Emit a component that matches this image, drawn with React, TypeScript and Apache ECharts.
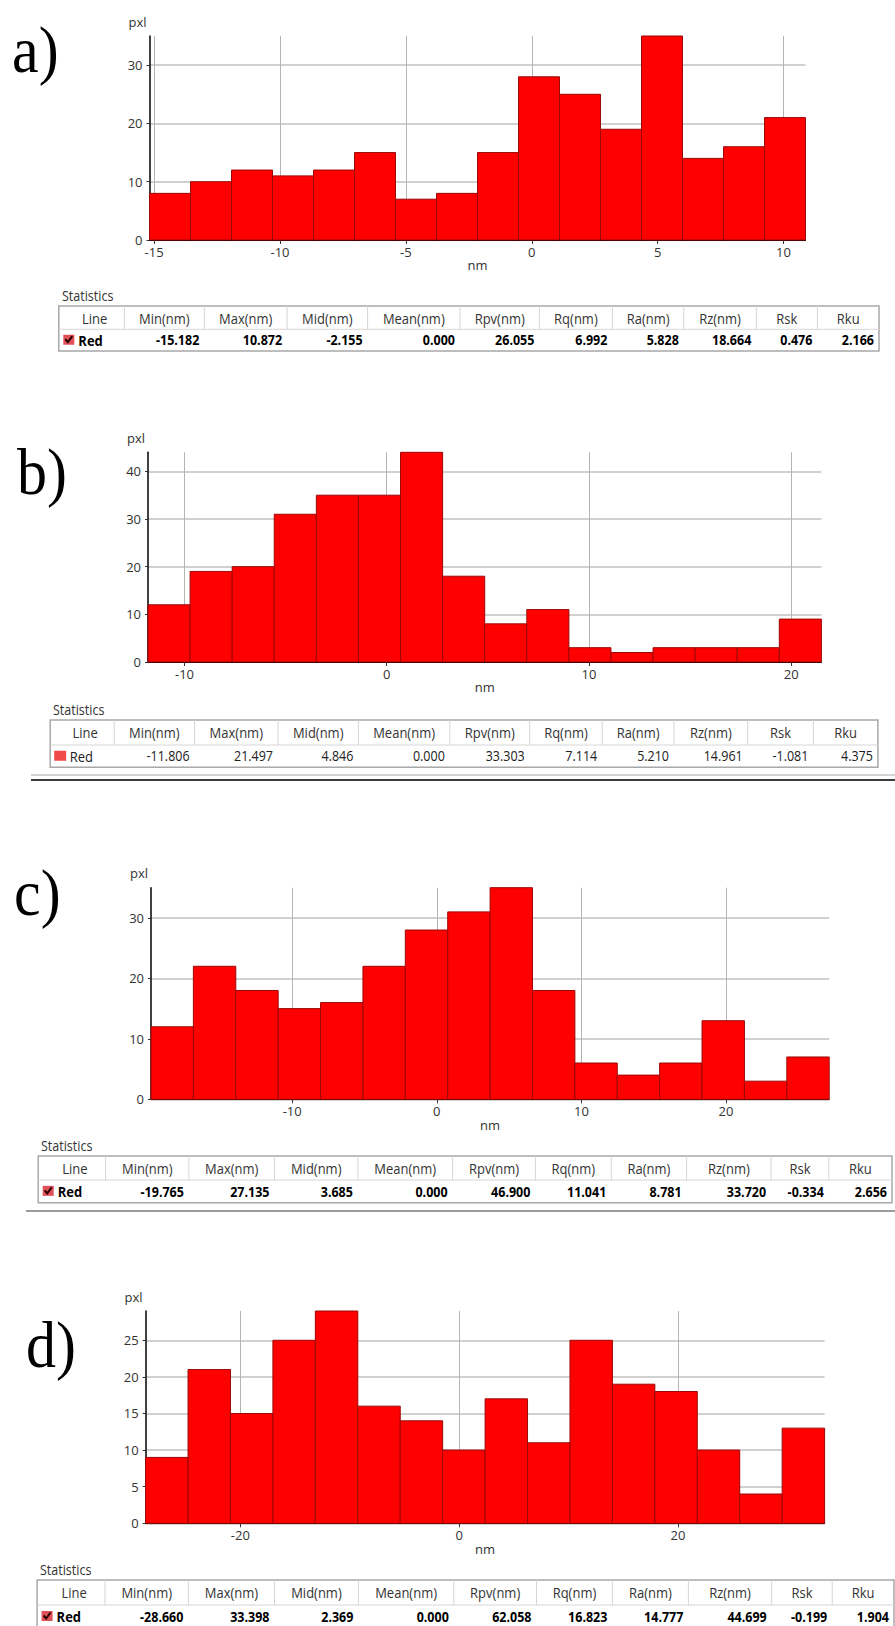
import React, { useEffect, useRef } from 'react';
import * as echarts from 'echarts';

// ---------- data ----------
const PANEL_LABELS = ['a)', 'b)', 'c)', 'd)'];
const SERIES_NAME = 'Red';
const X_NAME = 'nm';
const Y_NAME = 'pxl';
const STATS_TITLE = 'Statistics';

const X_MIN = [-15.182, -11.806, -19.765, -28.66];
const X_MAX = [10.872, 21.497, 27.135, 33.398];
const Y_MAX = [35, 44, 35, 29];

const COUNTS_A = [8, 10, 12, 11, 12, 15, 7, 8, 15, 28, 25, 19, 35, 14, 16, 21];
const COUNTS_B = [12, 19, 20, 31, 35, 35, 44, 18, 8, 11, 3, 2, 3, 3, 3, 9];
const COUNTS_C = [12, 22, 18, 15, 16, 22, 28, 31, 35, 18, 6, 4, 6, 13, 3, 7];
const COUNTS_D = [9, 21, 15, 25, 29, 16, 14, 10, 17, 11, 25, 19, 18, 10, 4, 13];

const X_TICKS_A = [-15, -10, -5, 0, 5, 10];
const X_TICKS_B = [-10, 0, 10, 20];
const X_TICKS_C = [-10, 0, 10, 20];
const X_TICKS_D = [-20, 0, 20];

const Y_TICKS_A = [0, 10, 20, 30];
const Y_TICKS_B = [0, 10, 20, 30, 40];
const Y_TICKS_C = [0, 10, 20, 30];
const Y_TICKS_D = [0, 5, 10, 15, 20, 25];

const STAT_HEADERS = ['Line', 'Min(nm)', 'Max(nm)', 'Mid(nm)', 'Mean(nm)', 'Rpv(nm)', 'Rq(nm)', 'Ra(nm)', 'Rz(nm)', 'Rsk', 'Rku'];
const STATS_A = ['-15.182', '10.872', '-2.155', '0.000', '26.055', '6.992', '5.828', '18.664', '0.476', '2.166'];
const STATS_B = ['-11.806', '21.497', '4.846', '0.000', '33.303', '7.114', '5.210', '14.961', '-1.081', '4.375'];
const STATS_C = ['-19.765', '27.135', '3.685', '0.000', '46.900', '11.041', '8.781', '33.720', '-0.334', '2.656'];
const STATS_D = ['-28.660', '33.398', '2.369', '0.000', '62.058', '16.823', '14.777', '44.699', '-0.199', '1.904'];

const COUNTS = [COUNTS_A, COUNTS_B, COUNTS_C, COUNTS_D];
const X_TICKS = [X_TICKS_A, X_TICKS_B, X_TICKS_C, X_TICKS_D];
const Y_TICKS = [Y_TICKS_A, Y_TICKS_B, Y_TICKS_C, Y_TICKS_D];
const STATS = [STATS_A, STATS_B, STATS_C, STATS_D];

// ---------- layout (pixels) ----------
const LAYOUT = [
  {
    grid: { left: 149.5, top: 36, width: 656, height: 204 },
    label: { x: 12, y: 50 },
    stat: { x: 62, y: 296 },
    table: { top: 306, hdr: 329.3, bottom: 351, cols: [58.8, 124.4, 204.3, 287.1, 367.6, 460, 539.4, 612.4, 683.8, 756.3, 817.4, 879] },
    bold: true, check: true,
  },
  {
    grid: { left: 148, top: 452.3, width: 673.4, height: 209.7 },
    label: { x: 17, y: 472 },
    stat: { x: 53, y: 710 },
    table: { top: 720, hdr: 745, bottom: 767.3, cols: [50.2, 114.2, 194.6, 278, 358.4, 449.8, 529.7, 602.2, 674, 747.7, 813.4, 877.9] },
    bold: false, check: false,
  },
  {
    grid: { left: 151, top: 887.7, width: 678.2, height: 211.6 },
    label: { x: 14, y: 893 },
    stat: { x: 41, y: 1146 },
    table: { top: 1156, hdr: 1180, bottom: 1202.7, cols: [38.2, 105.6, 188.9, 274.5, 357.9, 452.6, 535.4, 611.3, 686.6, 771.1, 828.8, 892] },
    bold: true, check: true,
  },
  {
    grid: { left: 145.6, top: 1311, width: 679, height: 212.3 },
    label: { x: 26, y: 1345 },
    stat: { x: 40, y: 1570 },
    table: { top: 1580, hdr: 1605, bottom: 1628, cols: [37.1, 105, 188.4, 274.5, 358.4, 453.8, 536.5, 612.4, 688.4, 771.7, 832.2, 894] },
    bold: true, check: true,
  },
];

const FONT = '"Open Sans", "Noto Sans", sans-serif';
const TXT_COLOR = '#333333';

function txt(x: number, y: number, text: string, o: any = {}) {
  return {
    type: 'text',
    x, y,
    scaleY: o.sy ?? 1,
    silent: true,
    z: 20,
    style: {
      text,
      x: 0, y: 0,
      fill: o.fill ?? TXT_COLOR,
      fontSize: o.size ?? 13,
      fontFamily: o.family ?? FONT,
      fontWeight: o.weight ?? 'normal',
      align: o.align ?? 'left',
      verticalAlign: 'middle',
    },
  };
}
function hline(x1: number, x2: number, y: number, stroke: string, lineWidth = 1) {
  return { type: 'line', silent: true, z: 19, shape: { x1, y1: y, x2, y2: y }, style: { stroke, lineWidth } };
}
function vline(x: number, y1: number, y2: number, stroke: string, lineWidth = 1) {
  return { type: 'line', silent: true, z: 19, shape: { x1: x, y1, x2: x, y2 }, style: { stroke, lineWidth } };
}

function buildTable(i: number) {
  const L = LAYOUT[i];
  const t = L.table;
  const c = t.cols;
  const els: any[] = [];
  els.push(txt(L.stat.x, L.stat.y, STATS_TITLE, { size: 12.5, sy: 1.15 }));
  els.push({ type: 'rect', silent: true, z: 18, shape: { x: c[0], y: t.top, width: c[c.length - 1] - c[0], height: t.bottom - t.top }, style: { fill: '#ffffff', stroke: '#a8a8a8', lineWidth: 1.5 } });
  els.push(hline(c[0], c[c.length - 1], t.hdr, '#d6d6d6', 1));
  for (let k = 1; k < c.length - 1; k++) els.push(vline(c[k], t.top, t.hdr, '#d6d6d6', 1));
  const hy = (t.top + t.hdr) / 2;
  const dy = (t.hdr + t.bottom) / 2;
  STAT_HEADERS.forEach((h, k) => {
    els.push(txt((c[k] + c[k + 1]) / 2 + (k === 0 ? 3 : 0), hy, h, { align: 'center', sy: 1.15 }));
  });
  const weight = L.bold ? 'bold' : 'normal';
  const fill = L.bold ? '#000000' : '#222222';
  if (L.check) {
    const bx = c[0] + 4.5, by = dy - 5.5;
    els.push({ type: 'rect', silent: true, z: 20, shape: { x: bx, y: by, width: 11, height: 10 }, style: { fill: '#e05058' } });
    els.push({ type: 'polyline', silent: true, z: 21, shape: { points: [[bx + 2, by + 4.5], [bx + 4.5, by + 7.5], [bx + 9, by + 1.5]] }, style: { stroke: '#2a0000', lineWidth: 2, fill: 'none' } });
  } else {
    els.push({ type: 'rect', silent: true, z: 20, shape: { x: c[0] + 4, y: dy - 5.5, width: 12, height: 10 }, style: { fill: '#f04a4a' } });
  }
  els.push(txt(c[0] + 19.5, dy, SERIES_NAME, { weight, fill, size: 13, sy: 1.15 }));
  STATS[i].forEach((v, k) => {
    els.push(txt(c[k + 2] - 5, dy, v, { align: 'right', weight, fill, size: 12.5, sy: 1.15 }));
  });
  return els;
}

function buildOption() {
  const grids = LAYOUT.map((L) => ({ ...L.grid, outerBoundsMode: 'none', containLabel: false }));
  const xAxis = LAYOUT.map((_, i) => ({
    type: 'value',
    gridIndex: i,
    min: X_MIN[i],
    max: X_MAX[i],
    name: X_NAME,
    nameLocation: 'middle',
    nameGap: 17,
    nameTextStyle: { fontFamily: FONT, fontSize: 13, color: TXT_COLOR },
    axisLine: { show: true, onZero: false, lineStyle: { color: '#000000', width: 1 } },
    axisTick: { show: true, inside: false, length: 4, customValues: X_TICKS[i], lineStyle: { color: '#333333' } },
    axisLabel: { show: true, customValues: X_TICKS[i], margin: 5, fontFamily: FONT, fontSize: 13, color: TXT_COLOR },
    splitLine: { show: true, lineStyle: { color: '#b4b4b4', width: 1 } },
  }));
  const yAxis = LAYOUT.map((_, i) => ({
    type: 'value',
    gridIndex: i,
    min: 0,
    max: Y_MAX[i],
    name: Y_NAME,
    nameLocation: 'end',
    nameGap: 8,
    nameTextStyle: { fontFamily: FONT, fontSize: 13, color: TXT_COLOR, align: 'right', verticalAlign: 'bottom', padding: [0, 3, 0, 0] },
    axisLine: { show: true, onZero: false, lineStyle: { color: '#000000', width: 1.5 } },
    axisTick: { show: true, inside: false, length: 3, customValues: Y_TICKS[i], lineStyle: { color: '#333333' } },
    axisLabel: { show: true, customValues: Y_TICKS[i], margin: 7, fontFamily: FONT, fontSize: 13, color: TXT_COLOR },
    splitLine: { show: true, lineStyle: { color: '#c0c0c0', width: 1.5 } },
  }));
  const series = COUNTS.map((counts, i) => {
    const w = (X_MAX[i] - X_MIN[i]) / counts.length;
    const data = counts.map((v, k) => [X_MIN[i] + k * w, X_MIN[i] + (k + 1) * w, v]);
    return {
      type: 'custom',
      name: SERIES_NAME,
      xAxisIndex: i,
      yAxisIndex: i,
      encode: { x: [0, 1], y: 2 },
      data,
      renderItem: (params: any, api: any) => {
        const p0 = api.coord([api.value(0), 0]);
        const p1 = api.coord([api.value(1), api.value(2)]);
        return {
          type: 'rect',
          shape: { x: p0[0], y: p1[1], width: p1[0] - p0[0], height: p0[1] - p1[1] },
          style: { fill: '#ff0000', stroke: '#9c0606', lineWidth: 1 },
        };
      },
    };
  });

  const graphic: any[] = [];
  LAYOUT.forEach((L, i) => {
    graphic.push(txt(L.label.x, L.label.y, PANEL_LABELS[i], { family: '"Liberation Serif", "Times New Roman", serif', size: 60, fill: '#000000', sy: 1.1 }));
    graphic.push(...buildTable(i));
  });
  // separator lines
  graphic.push(hline(31, 895, 775, '#c4c4c4', 1.5));
  graphic.push(hline(31, 895, 780, '#3c3c3c', 2));
  graphic.push(hline(26, 895, 1211, '#9c9c9c', 2));

  return {
    animation: false,
    backgroundColor: '#ffffff',
    grid: grids,
    xAxis,
    yAxis,
    series,
    graphic,
  };
}

export default function App() {
  const ref = useRef<HTMLDivElement>(null);
  useEffect(() => {
    if (!ref.current) return;
    const chart = echarts.init(ref.current, undefined, { renderer: 'svg' });
    chart.setOption(buildOption() as any);
    return () => chart.dispose();
  }, []);
  return <div ref={ref} style={{ position: 'absolute', left: 0, top: 0, width: 895, height: 1626, background: '#fff' }} />;
}
